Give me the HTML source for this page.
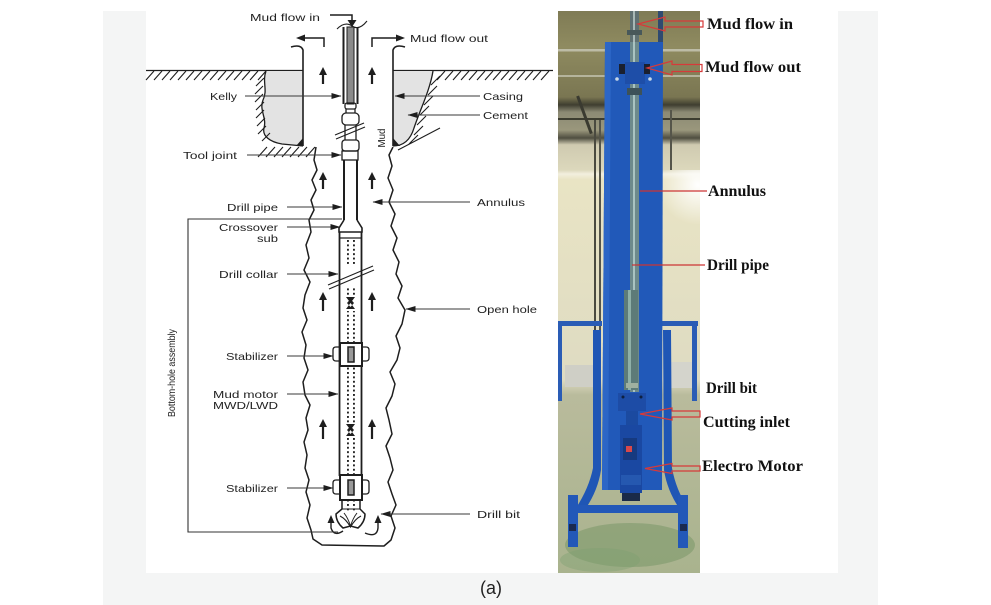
<!DOCTYPE html>
<html><head><meta charset="utf-8">
<style>
html,body{margin:0;padding:0;background:#fff;}
svg{display:block;}
.l{font-family:"Liberation Sans",Arial,sans-serif;font-size:10.5px;fill:#222;}
.r{font-family:"Liberation Serif","Times New Roman",serif;font-size:16px;font-weight:bold;fill:#111;}
</style></head><body>
<svg width="991" height="605" viewBox="0 0 991 605" xmlns="http://www.w3.org/2000/svg">
<defs>
<marker id="ah" markerWidth="10" markerHeight="6" refX="9.5" refY="3" orient="auto" markerUnits="userSpaceOnUse"><path d="M0,0 L10,3 L0,6 Z" fill="#1e1e1e"/></marker>
<pattern id="dots" x="347" y="240" width="6" height="4.4" patternUnits="userSpaceOnUse"><rect x="0" y="0" width="1.9" height="1.9" fill="#222"/></pattern>
<linearGradient id="bg" x1="0" y1="11" x2="0" y2="573" gradientUnits="userSpaceOnUse">
<stop offset="0" stop-color="#7f7b55"/>
<stop offset="0.064" stop-color="#8f8b60"/>
<stop offset="0.153" stop-color="#7a7652"/>
<stop offset="0.167" stop-color="#3f3e30"/>
<stop offset="0.180" stop-color="#8c8a74"/>
<stop offset="0.212" stop-color="#9a977c"/>
<stop offset="0.226" stop-color="#4f4e40"/>
<stop offset="0.238" stop-color="#cfcab0"/>
<stop offset="0.283" stop-color="#dcd8bc"/>
<stop offset="0.290" stop-color="#f2efde"/>
<stop offset="0.300" stop-color="#e9e4c4"/>
<stop offset="0.656" stop-color="#dedbc2"/>
<stop offset="0.683" stop-color="#b9bb9c"/>
<stop offset="1" stop-color="#a9b38e"/>
</linearGradient>
<radialGradient id="glare" cx="698" cy="185" r="40" gradientUnits="userSpaceOnUse">
<stop offset="0" stop-color="#fff" stop-opacity="1"/>
<stop offset="1" stop-color="#fff" stop-opacity="0"/>
</radialGradient>
<clipPath id="ph"><rect x="558" y="11" width="142" height="562"/></clipPath>
</defs>

<rect x="103" y="11" width="775" height="594" fill="#f4f5f5"/>
<rect x="146" y="11" width="692" height="562" fill="#fff"/>

<!-- ===== LEFT DIAGRAM ===== -->
<g stroke="#1e1e1e" stroke-width="1.3" fill="none">
<line x1="146" y1="70.5" x2="303" y2="70.5"/>
<line x1="393" y1="70.5" x2="553" y2="70.5"/>
<path d="M146 80 L154 71 M154 80 L162 71 M162 80 L170 71 M170 80 L178 71 M178 80 L186 71 M186 80 L194 71 M194 80 L202 71 M202 80 L210 71 M210 80 L218 71 M218 80 L226 71 M226 80 L234 71 M234 80 L242 71 M242 80 L250 71 M250 80 L258 71 M258 80 L266 71" stroke-width="1.1"/>
<path d="M437 80 L445 71 M445 80 L453 71 M453 80 L461 71 M461 80 L469 71 M469 80 L477 71 M477 80 L485 71 M485 80 L493 71 M493 80 L501 71 M501 80 L509 71 M509 80 L517 71 M517 80 L525 71 M525 80 L533 71 M533 80 L541 71 M541 80 L549 71" stroke-width="1.1"/>
<path d="M303 71 L266 71 C262 82 268 90 263 100 C259 110 267 118 264 128 C262 136 270 142 282 144 L303 146 Z" fill="#e3e3e3" stroke="none"/>
<path d="M266 71 C262 82 268 90 263 100 C259 110 267 118 264 128 C262 136 270 142 282 144 L303 146"/>
<path d="M393 71 L433 71 C430 90 420 110 414 128 C411 138 405 146 393 146 Z" fill="#e3e3e3" stroke="none"/>
<path d="M433 71 C430 90 420 110 414 128 C411 138 405 146 393 146"/>
<path d="M256 86 L264 78 M255 94 L263 86 M255 102 L263 94 M256 110 L264 102 M256 118 L264 110 M257 126 L265 118 M258 134 L266 126 M262 141 L270 133 M258 157 L267 147 M266 157 L275 147 M274 157 L283 147 M282 157 L291 147 M290 157 L299 147 M298 157 L307 147 M306 157 L315 147" stroke-width="1.1"/>
<path d="M431 85 L440 76 M428 95 L437 86 M424 105 L433 96 M420 115 L429 106 M417 125 L426 116 M414 135 L423 126 M409 144 L418 135 M398 150 L440 128" stroke-width="1.1"/>
<path d="M291 47 Q301 44 303 50 L303 146" stroke-width="1.6"/>
<path d="M405 47 Q395 44 393 50 L393 146" stroke-width="1.6"/>
<path d="M296 146 L303 146 L303 138 Z" fill="#1e1e1e" stroke="none"/>
<path d="M393 146 L400 146 L393 138 Z" fill="#1e1e1e" stroke="none"/>
<polyline points="316,147 314,160 317,170 312,180 316,190 311,200 314,210 309,220 311,232 306,245 309,258 304,270 310,282 305,295 303,308 307,320 302,332 306,345 304,358 308,370 303,382 305,395 310,405 306,418 308,430 304,442 307,455 305,468 309,480 306,492 310,505 307,518 311,530 313,539 322,545 384,546 391,540 395,528 391,516 396,505 392,494 388,482 393,470 390,458 386,446 392,434 389,420 386,408 392,396 395,384 390,372 397,360 400,348 396,336 402,324 405,310 398,298 402,286 396,274 399,262 393,250 397,238 391,226 395,214 389,202 393,190 388,178 392,166 389,155 393,147" stroke-width="1.5" stroke-linejoin="round"/>
<path d="M330 15 L352 15 L352 22" stroke-width="1.5"/>
<path d="M347.5 20 L356.5 20 L352 27 Z" fill="#1e1e1e" stroke="none"/>
<path d="M337 29 Q345 21 352 26 T367 21" stroke-width="1.1"/>
<line x1="343.5" y1="27" x2="343.5" y2="104" stroke-width="2"/>
<line x1="357.5" y1="27" x2="357.5" y2="104" stroke-width="2"/>
<rect x="347" y="27" width="7" height="77" fill="#8a8a8a" stroke-width="1"/>
<rect x="345" y="103" width="11" height="6" rx="2"/>
<line x1="346" y1="109" x2="346" y2="113"/><line x1="355" y1="109" x2="355" y2="113"/>
<rect x="342" y="113" width="17" height="12" rx="4"/>
<line x1="345" y1="125" x2="345" y2="140"/><line x1="356" y1="125" x2="356" y2="140"/>
<line x1="335" y1="135" x2="364" y2="123" stroke-width="1.1"/>
<line x1="336" y1="139" x2="365" y2="127" stroke-width="1.1"/>
<rect x="342" y="140" width="17" height="11" rx="3"/>
<rect x="342" y="151" width="16" height="9"/>
<line x1="344" y1="160" x2="344" y2="220" stroke-width="2"/>
<line x1="357" y1="160" x2="357" y2="220" stroke-width="2"/>
<path d="M344 220 L339 228 L339 232 L362 232 L362 228 L357 220" stroke-width="1.6"/>
<line x1="339.5" y1="232" x2="339.5" y2="476" stroke-width="1.8"/>
<line x1="361.5" y1="232" x2="361.5" y2="476" stroke-width="1.8"/>
<line x1="339" y1="238" x2="362" y2="238"/>
<line x1="328" y1="285" x2="373" y2="266" stroke-width="1.1"/>
<line x1="329" y1="289" x2="374" y2="270" stroke-width="1.1"/>
</g>
<g fill="url(#dots)">
<rect x="347" y="240" width="9" height="26"/>
<rect x="347" y="288" width="9" height="8"/>
<rect x="347" y="311" width="9" height="31"/>
<rect x="347" y="367" width="9" height="56"/>
<rect x="347" y="438" width="9" height="36"/>
<rect x="347" y="500" width="9" height="11"/>
</g>
<g fill="#1e1e1e" stroke="none">
<path d="M346 297 L355 297 L350.5 303 Z M346 309 L355 309 L350.5 303 Z M347 303 L350.5 299 L354 303 L350.5 307 Z"/>
<path d="M346 424 L355 424 L350.5 430 Z M346 436 L355 436 L350.5 430 Z M347 430 L350.5 426 L354 430 L350.5 434 Z"/>
</g>
<g stroke="#1e1e1e" fill="none">
<rect x="340" y="343" width="22" height="23" fill="#fff" stroke-width="2"/>
<path d="M340 347 L336 347 Q333 347 333 350 L333 358 Q333 361 336 361 L340 361" stroke-width="1.3"/>
<path d="M362 347 L366 347 Q369 347 369 350 L369 358 Q369 361 366 361 L362 361" stroke-width="1.3"/>
<rect x="348" y="347" width="6" height="15" fill="#999" stroke-width="1.5"/>
<rect x="340" y="475" width="22" height="25" fill="#fff" stroke-width="2"/>
<path d="M340 480 L336 480 Q333 480 333 483 L333 491 Q333 494 336 494 L340 494" stroke-width="1.3"/>
<path d="M362 480 L366 480 Q369 480 369 483 L369 491 Q369 494 366 494 L362 494" stroke-width="1.3"/>
<rect x="348" y="480" width="6" height="15" fill="#999" stroke-width="1.5"/>
<!-- bit -->
<path d="M342 500 L342 509 L336 514 Q336 522 343 528 L350.5 526 L358 528 Q365 522 365 514 L360 509 L360 500" stroke-width="1.5"/>
<path d="M340 516 Q346 519 350.5 527 Q355 519 361 516" stroke-width="1.1"/>
<path d="M344 513 Q348 518 350.5 526 Q353 518 357 513" stroke-width="1"/>
<line x1="342" y1="509" x2="360" y2="509" stroke-width="1"/>
<path d="M343 531 Q334 537 331 528 L331 522" stroke-width="1.4"/>
<path d="M365 533 Q377 538 378 528 L378 522" stroke-width="1.4"/>
<path d="M342 219 L188 219 L188 532 L338 532" stroke="#333" stroke-width="1.1"/>
<path d="M324 47 L324 38 L304 38" stroke-width="1.5"/>
<path d="M372 47 L372 38 L396 38" stroke-width="1.5"/>
</g>
<g fill="#1e1e1e">
<path d="M296 38 L305 34.5 L305 41.5 Z"/>
<path d="M405 38 L396 34.5 L396 41.5 Z"/>
<path d="M327.5 523 L334.5 523 L331 515 Z"/>
<path d="M374.5 523 L381.5 523 L378 515 Z"/>
</g>
<g stroke="#1e1e1e" stroke-width="2.2">
<line x1="323" y1="73" x2="323" y2="84"/><line x1="372" y1="73" x2="372" y2="84"/>
<line x1="323" y1="178" x2="323" y2="189"/><line x1="372" y1="178" x2="372" y2="189"/>
<line x1="323" y1="298" x2="323" y2="311"/><line x1="372" y1="298" x2="372" y2="311"/>
<line x1="323" y1="425" x2="323" y2="439"/><line x1="372" y1="425" x2="372" y2="439"/>
</g>
<g fill="#1e1e1e">
<path d="M319 75 L327 75 L323 67 Z M368 75 L376 75 L372 67 Z"/>
<path d="M319 180 L327 180 L323 172 Z M368 180 L376 180 L372 172 Z"/>
<path d="M319 300 L327 300 L323 292 Z M368 300 L376 300 L372 292 Z"/>
<path d="M319 427 L327 427 L323 419 Z M368 427 L376 427 L372 419 Z"/>
</g>
<g stroke="#3a3a3a" stroke-width="1" marker-end="url(#ah)">
<line x1="245" y1="96" x2="341" y2="96"/>
<line x1="247" y1="155" x2="341" y2="155"/>
<line x1="287" y1="207" x2="342" y2="207"/>
<line x1="287" y1="227" x2="340" y2="227"/>
<line x1="287" y1="274" x2="338" y2="274"/>
<line x1="287" y1="356" x2="333" y2="356"/>
<line x1="287" y1="394" x2="338" y2="394"/>
<line x1="287" y1="488" x2="333" y2="488"/>
<line x1="480" y1="96" x2="395" y2="96"/>
<line x1="480" y1="115" x2="408" y2="115"/>
<line x1="470" y1="202" x2="373" y2="202"/>
<line x1="470" y1="309" x2="406" y2="309"/>
<line x1="470" y1="514" x2="381" y2="514"/>
</g>
<g class="l">
<text x="250" y="21" textLength="70" lengthAdjust="spacingAndGlyphs">Mud flow in</text>
<text x="410" y="42" textLength="78" lengthAdjust="spacingAndGlyphs">Mud flow out</text>
<text x="210" y="100" textLength="27" lengthAdjust="spacingAndGlyphs">Kelly</text>
<text x="483" y="100" textLength="40" lengthAdjust="spacingAndGlyphs">Casing</text>
<text x="483" y="119" textLength="45" lengthAdjust="spacingAndGlyphs">Cement</text>
<text x="183" y="159" textLength="54" lengthAdjust="spacingAndGlyphs">Tool joint</text>
<text x="227" y="211" textLength="51" lengthAdjust="spacingAndGlyphs">Drill pipe</text>
<text x="477" y="206" textLength="48" lengthAdjust="spacingAndGlyphs">Annulus</text>
<text x="219" y="231" textLength="59" lengthAdjust="spacingAndGlyphs">Crossover</text>
<text x="257" y="242" textLength="21" lengthAdjust="spacingAndGlyphs">sub</text>
<text x="219" y="278" textLength="59" lengthAdjust="spacingAndGlyphs">Drill collar</text>
<text x="477" y="313" textLength="60" lengthAdjust="spacingAndGlyphs">Open hole</text>
<text x="226" y="360" textLength="52" lengthAdjust="spacingAndGlyphs">Stabilizer</text>
<text x="213" y="398" textLength="65" lengthAdjust="spacingAndGlyphs">Mud motor</text>
<text x="213" y="409" textLength="65" lengthAdjust="spacingAndGlyphs">MWD/LWD</text>
<text x="226" y="492" textLength="52" lengthAdjust="spacingAndGlyphs">Stabilizer</text>
<text x="477" y="518" textLength="43" lengthAdjust="spacingAndGlyphs">Drill bit</text>
<text transform="translate(385,138) rotate(-90)" text-anchor="middle" textLength="19" lengthAdjust="spacingAndGlyphs">Mud</text>
<text transform="translate(175,417) rotate(-90)" textLength="88" lengthAdjust="spacingAndGlyphs" font-size="10">Bottom-hole assembly</text>
</g>

<!-- ===== PHOTO ===== -->
<g clip-path="url(#ph)">
<rect x="558" y="11" width="142" height="562" fill="url(#bg)"/>
<rect x="558" y="49" width="142" height="2.5" fill="#bdbca6"/>
<rect x="558" y="75" width="142" height="2" fill="#b5b49c"/>
<rect x="558" y="118" width="142" height="2" fill="#3c3c30"/>
<rect x="594" y="120" width="2" height="210" fill="#4a4a40"/>
<rect x="599" y="120" width="2" height="210" fill="#55554a"/>
<rect x="583" y="95" width="3" height="40" fill="#3a3a30" transform="rotate(-20 584 115)"/>
<rect x="670" y="110" width="2" height="60" fill="#55554a"/>
<rect x="565" y="365" width="30" height="22" fill="#cfcfc6"/>
<rect x="668" y="362" width="24" height="26" fill="#d4d4cc"/>
<ellipse cx="630" cy="545" rx="65" ry="22" fill="#6e9160" opacity="0.45"/>
<ellipse cx="600" cy="560" rx="40" ry="12" fill="#7ea070" opacity="0.4"/>
<rect x="558" y="170" width="142" height="60" fill="url(#glare)"/>
<rect x="558" y="321" width="44" height="5" fill="#2a5cb5"/>
<rect x="558" y="321" width="4" height="80" fill="#2a5cb5"/>
<rect x="662" y="321" width="36" height="5" fill="#2a5cb5"/>
<rect x="692" y="321" width="5" height="80" fill="#2a5cb5"/>
<path d="M593 330 L601 330 L601 470 Q598 490 586 508 L576 508 Q589 488 593 468 Z" fill="#1f56b5"/>
<path d="M663 330 L671 330 L672 468 Q676 490 688 508 L679 508 Q667 490 664 470 Z" fill="#1f56b5"/>
<rect x="575" y="505" width="110" height="8" fill="#2258b8"/>
<rect x="568" y="495" width="10" height="52" fill="#2258b8"/>
<rect x="678" y="495" width="10" height="53" fill="#2258b8"/>
<rect x="569" y="524" width="7" height="7" fill="#1a2a50"/>
<rect x="680" y="524" width="7" height="7" fill="#1a2a50"/>
<path d="M605 42 L663 42 L662 490 L602 490 Z" fill="#2159b9"/>
<path d="M605 42 L611 42 L608 490 L602 490 Z" fill="#2c66c6"/>
<rect x="658" y="11" width="5" height="31" fill="#2f4a70"/>
<rect x="630" y="11" width="9" height="31" fill="#5f7072"/>
<rect x="633" y="11" width="2" height="31" fill="#a8b8b6"/>
<rect x="627" y="30" width="15" height="5" fill="#48585a"/>
<rect x="630" y="42" width="9" height="350" fill="#6d8a8c"/>
<rect x="633" y="42" width="2" height="350" fill="#a9c3c0"/>
<rect x="625" y="62" width="20" height="22" fill="#1e4ea8"/>
<rect x="619" y="64" width="6" height="10" fill="#1a2030"/>
<rect x="644" y="64" width="6" height="10" fill="#1a2030"/>
<circle cx="617" cy="79" r="1.8" fill="#c8d8e8"/>
<circle cx="650" cy="79" r="1.8" fill="#c8d8e8"/>
<rect x="627" y="88" width="15" height="7" fill="#3d5258"/>
<rect x="624" y="290" width="14" height="100" fill="#5d7b78"/>
<rect x="628" y="290" width="3" height="100" fill="#8fb0a8"/>
<rect x="626" y="383" width="12" height="5" fill="#9fb0a0"/>
<rect x="618" y="393" width="28" height="18" fill="#1d4ca6"/>
<circle cx="623" cy="397" r="1.5" fill="#0e2040"/><circle cx="641" cy="397" r="1.5" fill="#0e2040"/>
<rect x="626" y="411" width="12" height="14" fill="#1b4aa0"/>
<rect x="620" y="425" width="22" height="68" fill="#1a48a2"/>
<rect x="623" y="438" width="14" height="22" fill="#163a80"/>
<rect x="626" y="446" width="6" height="6" fill="#d8484a"/>
<rect x="621" y="475" width="20" height="10" fill="#2558b0"/>
<rect x="622" y="493" width="18" height="8" fill="#1a2a48"/>
</g>

<g stroke="#d63a3a" stroke-width="1.2" fill="none">
<polygon points="638,24 665,17 665,21 703,21 703,27 665,27 665,31"/>
<polygon points="647,68 672,61 672,64.5 702,64.5 702,71.5 672,71.5 672,75"/>
<polygon points="640,414 672,408 672,411 700,411 700,417 672,417 672,420"/>
<polygon points="645,468.5 672,463.5 672,466 700,466 700,471 672,471 672,473.5"/>
</g>
<g stroke="#cc3535" stroke-width="1.3">
<line x1="640" y1="191" x2="707" y2="191"/>
<line x1="632" y1="265" x2="705" y2="265"/>
</g>

<g class="r">
<text x="707" y="29" textLength="86" lengthAdjust="spacingAndGlyphs">Mud flow in</text>
<text x="705" y="72" textLength="96" lengthAdjust="spacingAndGlyphs">Mud flow out</text>
<text x="708" y="196" textLength="58" lengthAdjust="spacingAndGlyphs">Annulus</text>
<text x="707" y="270" textLength="62" lengthAdjust="spacingAndGlyphs">Drill pipe</text>
<text x="706" y="393" textLength="51" lengthAdjust="spacingAndGlyphs">Drill bit</text>
<text x="703" y="427" textLength="87" lengthAdjust="spacingAndGlyphs">Cutting inlet</text>
<text x="702" y="471" textLength="101" lengthAdjust="spacingAndGlyphs">Electro Motor</text>
</g>

<text x="480" y="594" font-family="'Liberation Sans',Arial,sans-serif" font-size="18" fill="#222">(a)</text>
</svg>
</body></html>
